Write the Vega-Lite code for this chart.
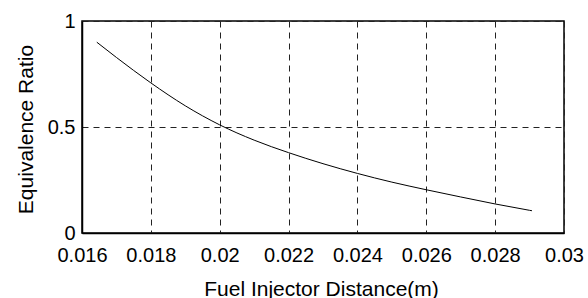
{
  "$schema": "https://vega.github.io/schema/vega-lite/v6.json",
  "autosize": {"type": "none"},
  "padding": {"left": 82, "top": 21, "right": 24, "bottom": 65},
  "width": 482,
  "height": 212,
  "background": "white",
  "config": {
    "font": "Liberation Sans",
    "view": {"stroke": "black", "strokeWidth": 1.5},
    "axis": {
      "labelFont": "Liberation Sans",
      "titleFont": "Liberation Sans",
      "labelFontSize": 20,
      "titleFontSize": 21,
      "labelColor": "black",
      "titleColor": "black",
      "titleFontWeight": "normal",
      "domainColor": "black",
      "domainWidth": 1.5,
      "ticks": false,
      "gridColor": "#222",
      "gridWidth": 1,
      "gridDash": [6, 5],
      "gridOpacity": 1
    }
  },
  "data": {
    "values": [
      {"d": 0.01643, "r": 0.900},
      {"d": 0.017, "r": 0.828},
      {"d": 0.018, "r": 0.708},
      {"d": 0.019, "r": 0.600},
      {"d": 0.020, "r": 0.510},
      {"d": 0.021, "r": 0.438},
      {"d": 0.022, "r": 0.379},
      {"d": 0.023, "r": 0.327},
      {"d": 0.024, "r": 0.281},
      {"d": 0.025, "r": 0.240},
      {"d": 0.026, "r": 0.204},
      {"d": 0.027, "r": 0.170},
      {"d": 0.028, "r": 0.137},
      {"d": 0.029, "r": 0.107},
      {"d": 0.02907, "r": 0.105}
    ]
  },
  "mark": {"type": "line", "color": "black", "strokeWidth": 1, "interpolate": "monotone"},
  "encoding": {
    "x": {
      "field": "d",
      "type": "quantitative",
      "scale": {"domain": [0.016, 0.03], "nice": false, "zero": false},
      "axis": {
        "title": "Fuel Injector Distance(m)",
        "values": [0.016, 0.018, 0.02, 0.022, 0.024, 0.026, 0.028, 0.03],
        "format": ".3~f",
        "labelPadding": 12,
        "labelBaseline": "top",
        "labelOverlap": false,
        "labelFlush": false,
        "titleBaseline": "alphabetic",
        "titleY": 62,
        "titleX": 239
      }
    },
    "y": {
      "field": "r",
      "type": "quantitative",
      "scale": {"domain": [0, 1], "nice": false},
      "axis": {
        "title": "Equivalence Ratio",
        "values": [0, 0.5, 1],
        "format": "~g",
        "labelPadding": 7,
        "labelBaseline": "middle",
        "labelFlush": false,
        "labelOverlap": false,
        "titleAngle": -90,
        "titleBaseline": "alphabetic",
        "titleX": -50,
        "titleY": 108
      }
    }
  }
}
